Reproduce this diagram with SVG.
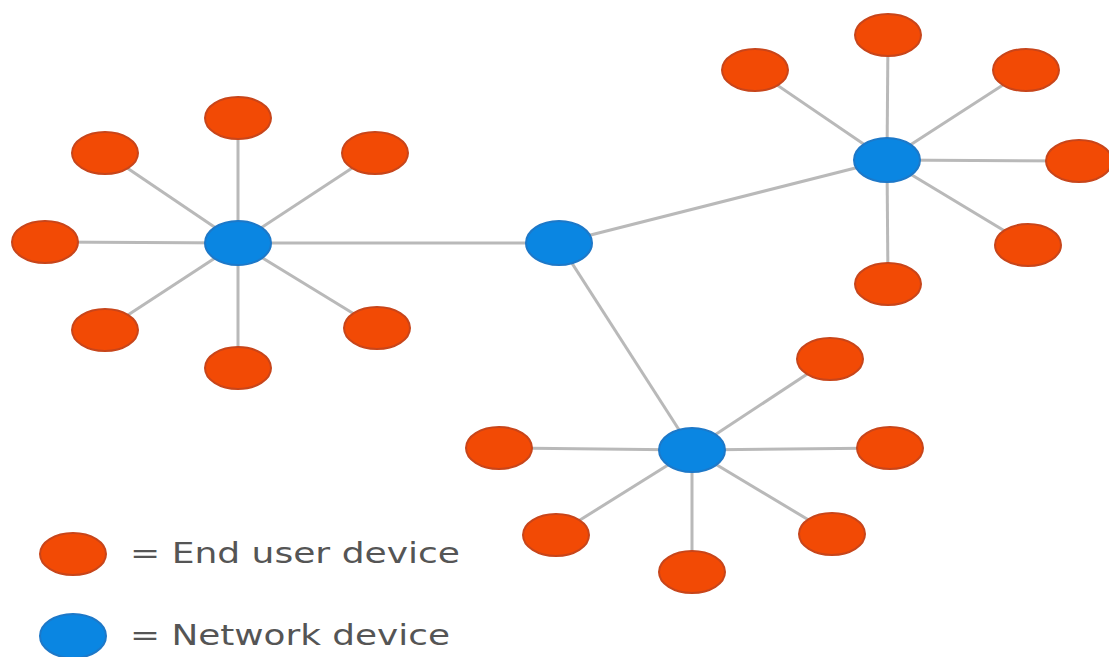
<svg xmlns="http://www.w3.org/2000/svg" width="1109" height="657" viewBox="0 0 1109 657">
<style>
.e{stroke:#b9b9b9;stroke-width:3;fill:none}
.u{fill:#f24a05;stroke:#c8451a;stroke-width:2}
.n{fill:#0a86e2;stroke:#1d78c8;stroke-width:2}
.t{font-family:"DejaVu Sans",Verdana,sans-serif;font-size:28px;fill:#555}
</style>
<rect width="1109" height="657" fill="#fff"/>
<g id="connectors" class="e">
<line x1="238" y1="243" x2="238" y2="118"/>
<line x1="238" y1="243" x2="105" y2="153"/>
<line x1="238" y1="243" x2="375" y2="153"/>
<line x1="238" y1="243" x2="45" y2="242"/>
<line x1="238" y1="243" x2="105" y2="330"/>
<line x1="238" y1="243" x2="377" y2="328"/>
<line x1="238" y1="243" x2="238" y2="368"/>
<line x1="238" y1="243" x2="559" y2="243"/>
<line x1="559" y1="243" x2="887" y2="160"/>
<line x1="559" y1="243" x2="692" y2="450"/>
<line x1="887" y1="160" x2="888" y2="35"/>
<line x1="887" y1="160" x2="755" y2="70"/>
<line x1="887" y1="160" x2="1026" y2="70"/>
<line x1="887" y1="160" x2="1079" y2="161"/>
<line x1="887" y1="160" x2="1028" y2="245"/>
<line x1="887" y1="160" x2="888" y2="284"/>
<line x1="692" y1="450" x2="830" y2="359"/>
<line x1="692" y1="450" x2="499" y2="448"/>
<line x1="692" y1="450" x2="890" y2="448"/>
<line x1="692" y1="450" x2="556" y2="535"/>
<line x1="692" y1="450" x2="832" y2="534"/>
<line x1="692" y1="450" x2="692" y2="572"/>
</g>
<g id="hubA"><ellipse class="n" cx="238" cy="243" rx="33" ry="22"/></g>
<g id="hubB"><ellipse class="n" cx="559" cy="243" rx="33" ry="22"/></g>
<g id="hubC"><ellipse class="n" cx="887" cy="160" rx="33" ry="22"/></g>
<g id="hubD"><ellipse class="n" cx="692" cy="450" rx="33" ry="22"/></g>
<g id="a1"><ellipse class="u" cx="238" cy="118" rx="33" ry="21"/></g>
<g id="a2"><ellipse class="u" cx="105" cy="153" rx="33" ry="21"/></g>
<g id="a3"><ellipse class="u" cx="375" cy="153" rx="33" ry="21"/></g>
<g id="a4"><ellipse class="u" cx="45" cy="242" rx="33" ry="21"/></g>
<g id="a5"><ellipse class="u" cx="105" cy="330" rx="33" ry="21"/></g>
<g id="a6"><ellipse class="u" cx="377" cy="328" rx="33" ry="21"/></g>
<g id="a7"><ellipse class="u" cx="238" cy="368" rx="33" ry="21"/></g>
<g id="c1"><ellipse class="u" cx="888" cy="35" rx="33" ry="21"/></g>
<g id="c2"><ellipse class="u" cx="755" cy="70" rx="33" ry="21"/></g>
<g id="c3"><ellipse class="u" cx="1026" cy="70" rx="33" ry="21"/></g>
<g id="c4"><ellipse class="u" cx="1079" cy="161" rx="33" ry="21"/></g>
<g id="c5"><ellipse class="u" cx="1028" cy="245" rx="33" ry="21"/></g>
<g id="c6"><ellipse class="u" cx="888" cy="284" rx="33" ry="21"/></g>
<g id="d1"><ellipse class="u" cx="830" cy="359" rx="33" ry="21"/></g>
<g id="d2"><ellipse class="u" cx="499" cy="448" rx="33" ry="21"/></g>
<g id="d3"><ellipse class="u" cx="890" cy="448" rx="33" ry="21"/></g>
<g id="d4"><ellipse class="u" cx="556" cy="535" rx="33" ry="21"/></g>
<g id="d5"><ellipse class="u" cx="832" cy="534" rx="33" ry="21"/></g>
<g id="d6"><ellipse class="u" cx="692" cy="572" rx="33" ry="21"/></g>
<g id="legend-user"><ellipse class="u" cx="73" cy="554" rx="33" ry="21"/><text class="t" x="130" y="563" textLength="330" lengthAdjust="spacingAndGlyphs">= End user device</text></g>
<g id="legend-network"><ellipse class="n" cx="73" cy="636" rx="33" ry="22"/><text class="t" x="130" y="645" textLength="320" lengthAdjust="spacingAndGlyphs">= Network device</text></g>
</svg>
